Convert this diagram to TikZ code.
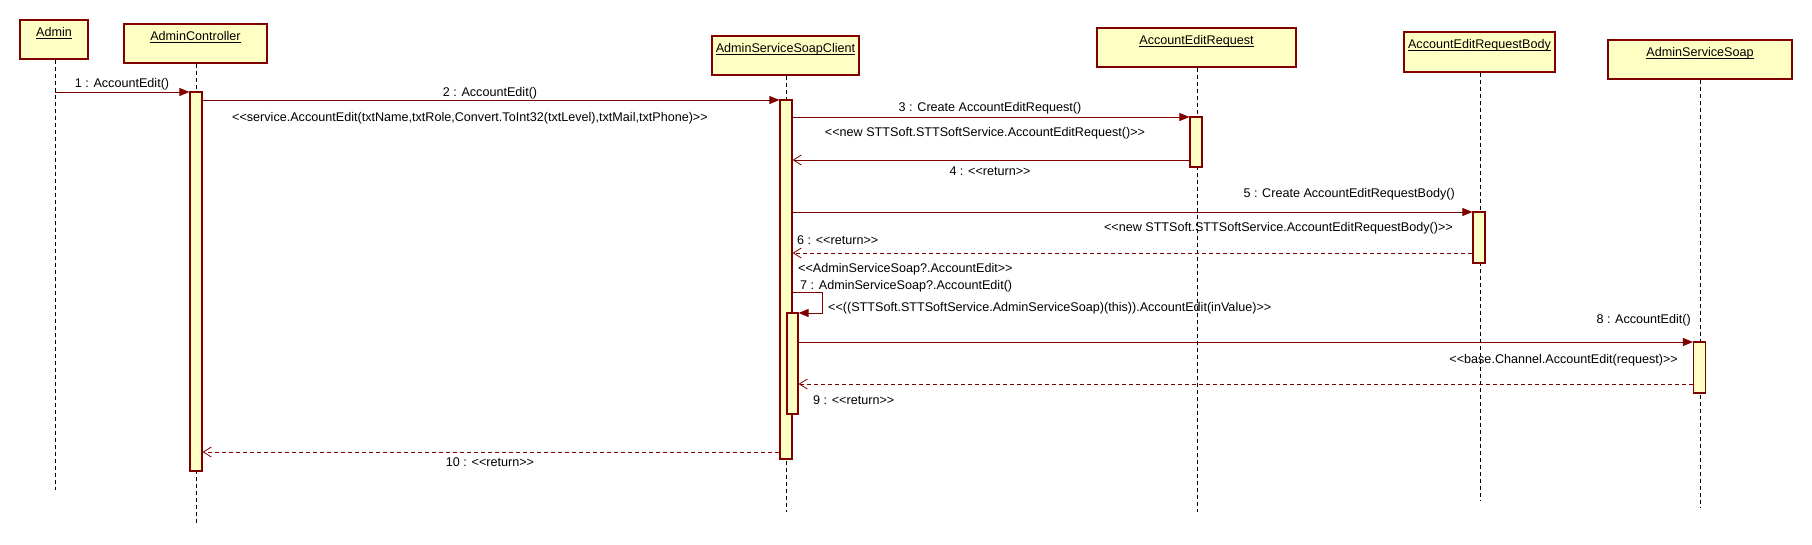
\documentclass[tikz,border=0pt]{standalone}
\usepackage{fontspec}
\setmainfont{Liberation Sans}[Ligatures=TeXOff]
\usetikzlibrary{arrows.meta}
\definecolor{umlred}{RGB}{128,0,0}
\definecolor{umlfill}{RGB}{255,255,196}
\newcommand\myul[1]{\setbox0\hbox{#1}\rlap{\rule[-2.4pt]{\wd0}{0.8pt}}\box0}
\tikzset{
  obj/.style={draw=umlred, fill=umlfill, line width=1.3pt, rectangle, inner sep=0pt},
  ttl/.style={anchor=base, inner sep=0pt, font=\fontsize{12.6}{14}\selectfont},
  life/.style={black, line width=0.9pt, dash pattern=on 4pt off 3pt},
  act/.style={draw=umlred, fill=umlfill, line width=1.2pt, rectangle, minimum width=12pt, inner sep=0pt},
  call/.style={umlred, line width=1pt, -{Triangle[length=10pt,width=8pt]}},
  ret/.style={umlred, line width=0.9pt, -{Straight Barb[length=8pt,width=10pt,line width=0.8pt]}},
  dret/.style={ret, dash pattern=on 4pt off 3pt},
  lbl/.style={inner sep=0pt, font=\fontsize{12.6}{14}\selectfont}
}
\begin{document}
\begin{tikzpicture}[x=1pt,y=-1pt]
\useasboundingbox (0,0) rectangle (1812,544);
\fill[white] (0,0) rectangle (1812,544);

% objects
\node[obj, minimum width=68pt, minimum height=39pt] (admin) at (54,39.5) {};
\node[obj, minimum width=143pt, minimum height=39pt] (ctrl) at (195.5,43.5) {};
\node[obj, minimum width=147pt, minimum height=39pt] (cli) at (785.5,55.5) {};
\node[obj, minimum width=199pt, minimum height=39pt] (aer) at (1196.5,47.5) {};
\node[obj, minimum width=151pt, minimum height=40pt] (aerb) at (1479.5,52) {};
\node[obj, minimum width=184pt, minimum height=39pt] (ass) at (1700,59.5) {};

\node[ttl] (tadmin) at ([yshift=-17.5pt]admin.north) {\myul{Admin}};
\node[ttl] (tctrl) at ([yshift=-17.5pt]ctrl.north) {\myul{AdminController}};
\node[ttl] (tcli) at ([yshift=-17.5pt]cli.north) {\myul{AdminServiceSoapClient}};
\node[ttl] (taer) at ([yshift=-17.5pt]aer.north) {\myul{AccountEditRequest}};
\node[ttl] (taerb) at ([yshift=-17.5pt]aerb.north) {\myul{AccountEditRequestBody}};
\node[ttl] (tass) at ([yshift=-17.5pt]ass.north) {\myul{AdminServiceSoap}};

% lifelines
\coordinate (eadmin) at (55,490);
\coordinate (ectrl) at (196,523);
\coordinate (ecli) at (786,512);
\coordinate (eaer) at (1197,512);
\coordinate (eaerb) at (1480,500);
\coordinate (eass) at (1700,507);
\draw[life] (admin.south -| eadmin) -- (eadmin);
\draw[life] (ctrl.south -| ectrl) -- (ectrl);
\draw[life] (cli.south -| ecli) -- (ecli);
\draw[life] (aer.south -| eaer) -- (eaer);
\draw[life] (aerb.south -| eaerb) -- (eaerb);
\draw[life] (ass.south -| eass) -- (eass);

% activations
\node[act, minimum height=379pt] (ctrlA) at (196,281.5) {};
\node[act, minimum height=359pt] (cliA) at (786,279.5) {};
\node[act, minimum height=50pt] (aerA) at (1196,142) {};
\node[act, minimum height=51pt] (aerbA) at (1479,237.5) {};
\node[act, minimum height=101pt, minimum width=11pt] (cliB) at (792.5,363.5) {};
\node[act, minimum height=51pt] (assA) at (1699.5,367.5) {};

% messages
\draw[call] (eadmin |- 0,92) -- (ctrlA.west |- 0,92);
\draw[call] (ctrlA.east |- 0,100) -- (cliA.west |- 0,100);
\draw[call] (cliA.east |- 0,117) -- (aerA.west |- 0,117);
\draw[ret] (aerA.west |- 0,160) -- (cliA.east |- 0,160);
\draw[call] (cliA.east |- 0,212) -- (aerbA.west |- 0,212);
\draw[dret] (aerbA.west |- 0,253) -- (cliA.east |- 0,253);
\draw[call] (cliA.east |- 0,292) -- (822,292) -- (822,313) -- (cliB.east |- 0,313);
\draw[call] (cliB.east |- 0,342) -- (assA.west |- 0,342);
\draw[dret] (assA.west |- 0,384) -- (cliB.east |- 0,384);
\draw[dret] (cliA.west |- 0,452) -- (ctrlA.east |- 0,452);

% labels
\node[lbl, anchor=base] (l1) at (122,87.5) {1 : AccountEdit()};
\node[lbl, anchor=base] (l2) at (490,96.5) {2 : AccountEdit()};
\node[lbl, anchor=base west] (l2b) at (232,121.5) {<<service.AccountEdit(txtName,txtRole,Convert.ToInt32(txtLevel),txtMail,txtPhone)>>};
\node[lbl, anchor=base] (l3) at (990,111.5) {3 : Create AccountEditRequest()};
\node[lbl, anchor=base] (l3b) at (985,136.5) {<<new STTSoft.STTSoftService.AccountEditRequest()>>};
\node[lbl, anchor=base] (l4) at (990,175.5) {4 : <<return>>};
\node[lbl, anchor=base east] (l5) at (1455,197.5) {5 : Create AccountEditRequestBody()};
\node[lbl, anchor=base east] (l5b) at (1453,231.5) {<<new STTSoft.STTSoftService.AccountEditRequestBody()>>};
\node[lbl, anchor=base west] (l6) at (797,244.5) {6 : <<return>>};
\node[lbl, anchor=base west] (l7a) at (798,272.5) {<<AdminServiceSoap?.AccountEdit>>};
\node[lbl, anchor=base west] (l7) at (800,289.5) {7 : AdminServiceSoap?.AccountEdit()};
\node[lbl, anchor=base west] (l7b) at (828,311.5) {<<((STTSoft.STTSoftService.AdminServiceSoap)(this)).AccountEdit(inValue)>>};
\node[lbl, anchor=base east] (l8) at (1691,323.5) {8 : AccountEdit()};
\node[lbl, anchor=base east] (l8b) at (1678,363.5) {<<base.Channel.AccountEdit(request)>>};
\node[lbl, anchor=base west] (l9) at (813,404.5) {9 : <<return>>};
\node[lbl, anchor=base] (l10) at (490,466.5) {10 : <<return>>};
\end{tikzpicture}
\end{document}
